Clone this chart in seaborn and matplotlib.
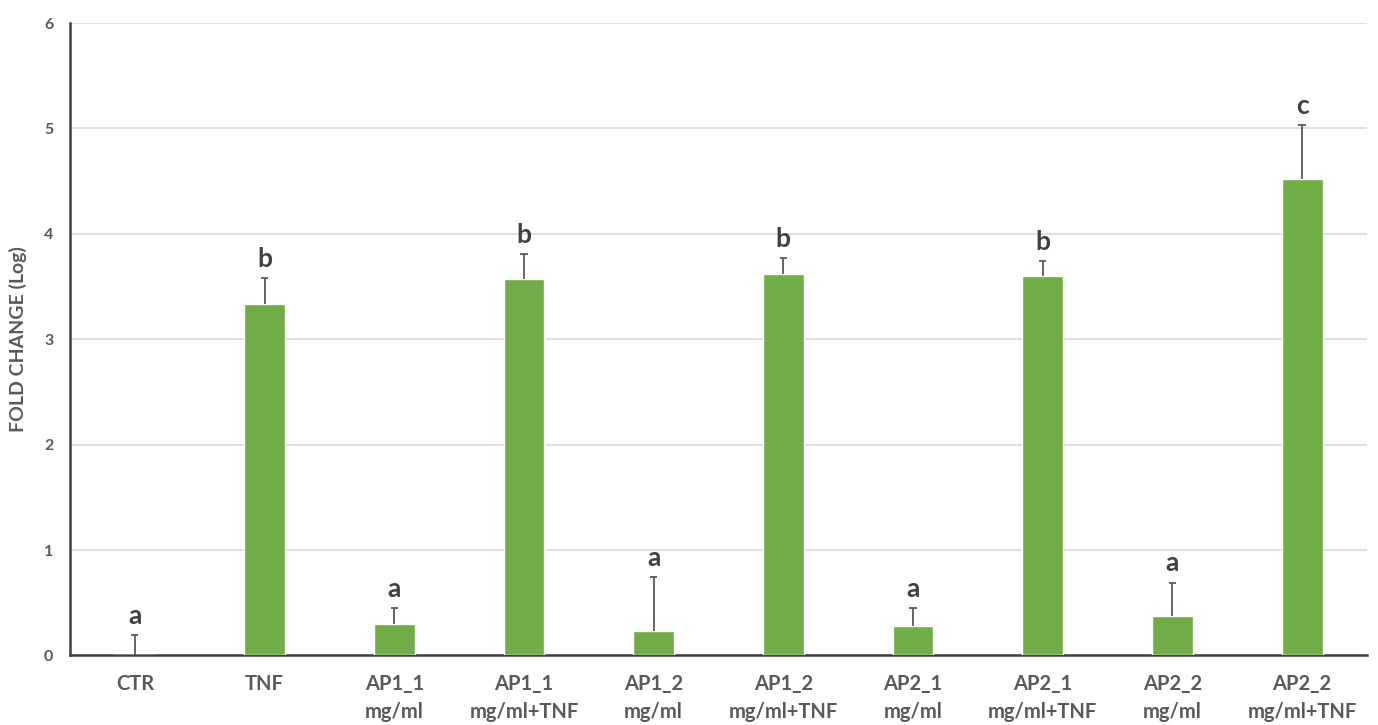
import matplotlib
matplotlib.use("Agg")
import matplotlib.pyplot as plt
import numpy as np
import pandas as pd
import seaborn as sns

# Groups, mean fold change (log) and upper SD
groups = ["CTR", "TNF", "AP1_1\nmg/ml", "AP1_1\nmg/ml+TNF", "AP1_2\nmg/ml",
          "AP1_2\nmg/ml+TNF", "AP2_1\nmg/ml", "AP2_1\nmg/ml+TNF", "AP2_2\nmg/ml",
          "AP2_2\nmg/ml+TNF"]
means = [0.0, 3.33, 0.30, 3.57, 0.23, 3.62, 0.28, 3.60, 0.375, 4.52]
errors = [0.19, 0.25, 0.15, 0.24, 0.51, 0.15, 0.17, 0.14, 0.315, 0.51]
letters = ["a", "b", "a", "b", "a", "b", "a", "b", "a", "c"]
yticks = [0, 1, 2, 3, 4, 5, 6]

df = pd.DataFrame({"group": groups, "fold": means})

sns.set_theme(style="white")
plt.rcParams["font.family"] = ["Lato", "DejaVu Sans"]

fig = plt.figure(figsize=(13.78, 7.25), dpi=100)
ax = fig.add_axes([0.0508, 0.0959, 0.9412, 0.8723])

sns.barplot(data=df, x="group", y="fold", color="#70AD47", saturation=1,
            width=0.315, errorbar=None, ax=ax, zorder=3)

# Upper-only error bars with a short cap
xs = np.arange(len(groups))
tops = np.array(means) + np.array(errors)
ax.vlines(xs, means, tops, color="#595959", linewidth=1.3, zorder=4)
ax.hlines(tops, xs - 0.028, xs + 0.028, color="#595959", linewidth=1.3, zorder=4)

# Significance letters above each bar
for x, t, lab in zip(xs, tops, letters):
    ax.text(x, t + 0.07, lab, ha="center", va="bottom", fontsize=19,
            fontweight="bold", color="#404040")

ax.set_ylim(0, 6)
ax.set_xlim(-0.5, len(groups) - 0.5)
ax.set_yticks(yticks)
ax.yaxis.grid(True, color="#d9d9d9", linewidth=1.2, zorder=0)
ax.set_axisbelow(True)
ax.tick_params(axis="y", length=0, pad=12, labelsize=11.5, labelcolor="#595959")
ax.tick_params(axis="x", length=0, pad=13, labelsize=14.5, labelcolor="#595959")
for lbl in ax.get_yticklabels():
    lbl.set_fontweight("bold")
for lbl in ax.get_xticklabels():
    lbl.set_fontweight("bold")
    lbl.set_linespacing(1.55)

ax.set_xlabel("")
ax.set_ylabel("FOLD CHANGE (Log)", fontsize=14, fontweight="bold",
              color="#595959", labelpad=12)

for side in ["top", "right"]:
    ax.spines[side].set_visible(False)
for side in ["left", "bottom"]:
    ax.spines[side].set_color("#404040")
    ax.spines[side].set_linewidth(1.8)

fig.savefig("out.png", dpi=100, facecolor="white")
